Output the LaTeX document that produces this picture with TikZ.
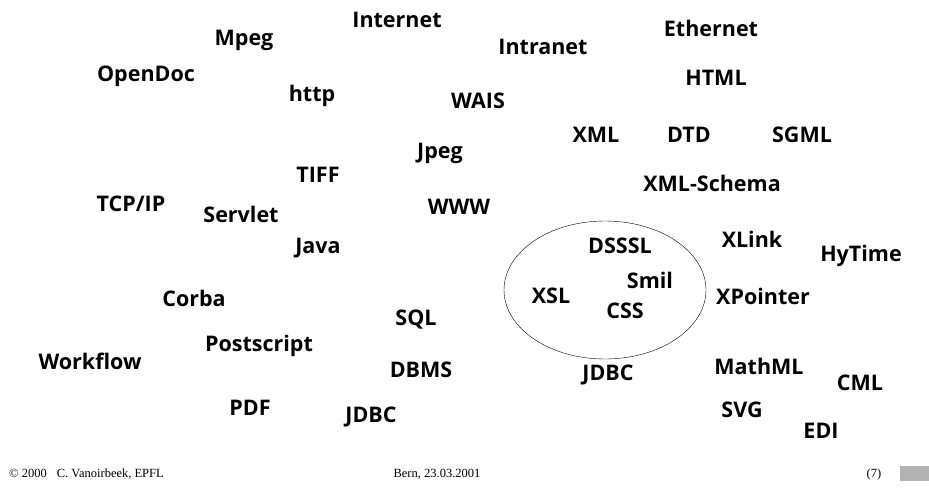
\documentclass[tikz,border=0pt]{standalone}
\usepackage{fontspec}
\setmainfont{Liberation Serif}
\newfontfamily\termfont{Open Sans}
\tikzset{
  term/.style={font=\termfont\bfseries\fontsize{21.5}{24}\selectfont, inner sep=0pt, anchor=center},
  foot/.style={font=\fontsize{12.5}{14}\selectfont, inner sep=0pt}
}
\begin{document}
\begin{tikzpicture}[x=1pt,y=-1pt]
	\useasboundingbox (0,0) rectangle (929,492);
	% top rows
	\node[term] (internet) at (397,20) {Internet};
	\node[term] (mpeg) at (244,40) {Mpeg};
	\node[term] (intranet) at (543,47) {Intranet};
	\node[term] (ethernet) at (711,28) {Ethernet};
	\node[term] (opendoc) at (146,76) {OpenDoc};
	\node[term] (http) at (312,96) {http};
	\node[term] (wais) at (478,101) {WAIS};
	\node[term] (html) at (716,78) {HTML};
	\node[term] (xml) at (596,135) {XML};
	\node[term] (dtd) at (689,135) {DTD};
	\node[term] (sgml) at (802,135) {SGML};
	\node[term] (jpeg) at (440,153) {Jpeg};
	\node[term] (tiff) at (318,175) {TIFF};
	\node[term] (xmlschema) at (712,183) {XML-Schema};
	\node[term] (tcpip) at (131,204) {TCP/IP};
	\node[term] (servlet) at (241,214) {Servlet};
	\node[term] (www) at (459,207) {WWW};
	\node[term] (java) at (318,248) {Java};
	% style sheets
	\draw (605,290) ellipse (101 and 69);
	\node[term] (dsssl) at (620,246) {DSSSL};
	\node[term] (smil) at (650,280) {Smil};
	\node[term] (xsl) at (551,296) {XSL};
	\node[term] (css) at (625,311) {CSS};
	\node[term] (xlink) at (752,239) {XLink};
	\node[term] (hytime) at (861,256) {HyTime};
	\node[term] (xpointer) at (763,296) {XPointer};
	% bottom rows
	\node[term] (corba) at (194,298) {Corba};
	\node[term] (sql) at (416,320) {SQL};
	\node[term] (postscript) at (259,346) {Postscript};
	\node[term] (workflow) at (90,361) {Workflow};
	\node[term] (dbms) at (421,370) {DBMS};
	\node[term] (jdbca) at (608,375) {JDBC};
	\node[term] (mathml) at (759,366) {MathML};
	\node[term] (cml) at (860,383) {CML};
	\node[term] (pdf) at (250,408) {PDF};
	\node[term] (jdbcb) at (371,417) {JDBC};
	\node[term] (svg) at (742,410) {SVG};
	\node[term] (edi) at (821,431) {EDI};
	% footer
	\node[foot, anchor=west] (copy) at (9,474) {\textcopyright\ 2000\hspace{10pt}C. Vanoirbeek, EPFL};
	\node[foot] (place) at (437,474) {Bern, 23.03.2001};
	\node[foot] (page) at (874,474) {(7)};
	\fill[black!30] (900,466) rectangle (929,481);
\end{tikzpicture}
\end{document}
